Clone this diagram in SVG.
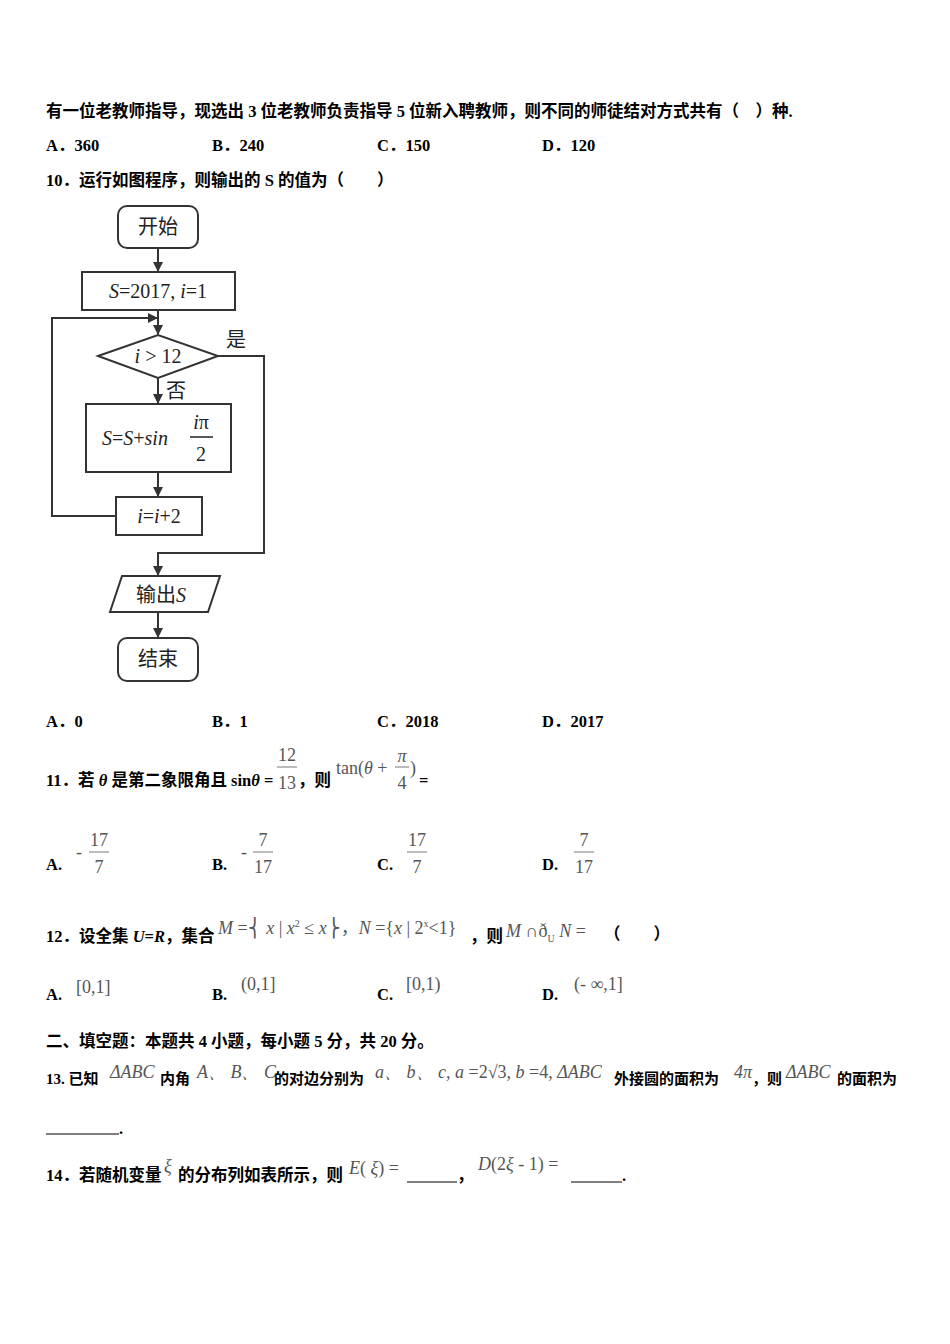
<svg xmlns="http://www.w3.org/2000/svg" width="950" height="1344" viewBox="0 0 950 1344">
<style>
.t{font-family:"Liberation Serif","Noto Sans CJK SC",serif;font-size:16.5px;font-weight:bold;fill:#000}
.q{font-family:"Liberation Serif","Noto Sans CJK SC",serif;font-size:15px;font-weight:bold;fill:#000}
.m{font-family:"Liberation Serif","Noto Sans CJK SC",serif;font-size:18px;fill:#555}
.mi{font-family:"Liberation Serif",serif;font-size:18px;fill:#555;font-style:italic}
.f{font-family:"Liberation Serif","Noto Sans CJK SC",serif;font-size:20px;fill:#222}
.fi{font-family:"Liberation Serif",serif;font-size:20px;fill:#222;font-style:italic}
.s{fill:#fff;stroke:#333;stroke-width:2}
.l{fill:none;stroke:#333;stroke-width:2}
</style>
<defs><marker id="a" markerWidth="10" markerHeight="10" refX="9" refY="5" orient="auto" markerUnits="userSpaceOnUse"><path d="M0,0 L10,5 L0,10 Z" fill="#333"/></marker></defs>
<rect width="950" height="1344" fill="#fff"/>
<text class="t" x="46" y="117">有一位老教师指导，现选出 3 位老教师负责指导 5 位新入聘教师，则不同的师徒结对方式共有（　）种.</text>
<text class="t" x="46" y="151">A．360</text><text class="t" x="212" y="151">B．240</text><text class="t" x="377" y="151">C．150</text><text class="t" x="542" y="151">D．120</text>
<text class="t" x="46" y="186">10．运行如图程序，则输出的 S 的值为（　　）</text>
<g id="connectors">
<line class="l" x1="158" y1="248" x2="158" y2="271" marker-end="url(#a)"/>
<line class="l" x1="158" y1="310" x2="158" y2="334" marker-end="url(#a)"/>
<polyline class="l" points="116,516 52,516 52,318 157,318" marker-end="url(#a)"/>
<line class="l" x1="158" y1="378" x2="158" y2="403" marker-end="url(#a)"/>
<line class="l" x1="158" y1="472" x2="158" y2="496" marker-end="url(#a)"/>
<polyline class="l" points="218,356 264,356 264,553 158,553 158,575" marker-end="url(#a)"/>
<line class="l" x1="158" y1="612" x2="158" y2="637" marker-end="url(#a)"/>
<text class="f" x="226" y="347">是</text><text class="f" x="166" y="398">否</text>
</g>
<g id="start"><rect class="s" x="118" y="206" width="80" height="42" rx="9"/><text class="f" x="158" y="234" text-anchor="middle">开始</text></g>
<g id="init"><rect class="s" x="82" y="272" width="153" height="38"/><text class="f" x="158" y="298" text-anchor="middle"><tspan class="fi">S</tspan>=2017, <tspan class="fi">i</tspan>=1</text></g>
<g id="cond"><polygon class="s" points="98,356 158,335 218,356 158,378"/><text class="f" x="158" y="363" text-anchor="middle"><tspan class="fi">i</tspan> &gt; 12</text></g>
<g id="update"><rect class="s" x="86" y="404" width="145" height="68"/><text class="f" x="102" y="445"><tspan class="fi">S</tspan>=<tspan class="fi">S</tspan>+<tspan class="fi">sin</tspan></text><text class="f" x="201" y="429" text-anchor="middle"><tspan class="fi">i</tspan>π</text><line x1="190" y1="437" x2="213" y2="437" stroke="#222" stroke-width="1.5"/><text class="f" x="201" y="461" text-anchor="middle">2</text></g>
<g id="inc"><rect class="s" x="116" y="497" width="86" height="38"/><text class="f" x="159" y="523" text-anchor="middle"><tspan class="fi">i</tspan>=<tspan class="fi">i</tspan>+2</text></g>
<g id="out"><polygon class="s" points="122,576 220,576 208,612 110,612"/><text class="f" x="161" y="602" text-anchor="middle">输出<tspan class="fi">S</tspan></text></g>
<g id="end"><rect class="s" x="118" y="638" width="80" height="43" rx="9"/><text class="f" x="158" y="666" text-anchor="middle">结束</text></g>
<text class="t" x="46" y="727">A．0</text><text class="t" x="212" y="727">B．1</text><text class="t" x="377" y="727">C．2018</text><text class="t" x="542" y="727">D．2017</text>
<text class="t" x="46" y="786">11．若 <tspan font-style="italic">θ</tspan> 是第二象限角且 sin<tspan font-style="italic">θ</tspan> =</text>
<text class="m" x="287" y="761" text-anchor="middle">12</text><line x1="277" y1="767" x2="297" y2="767" stroke="#777"/><text class="m" x="287" y="789" text-anchor="middle">13</text>
<text class="t" x="298" y="786">，则</text>
<text class="m" x="336" y="774">tan(<tspan class="mi">θ</tspan> + </text><text class="mi" x="402" y="762" text-anchor="middle">π</text><line x1="395" y1="767" x2="409" y2="767" stroke="#777"/><text class="m" x="402" y="789" text-anchor="middle">4</text><text class="m" x="410" y="774">)</text><text class="t" x="419" y="786">=</text>
<text class="t" x="46" y="870">A.</text><text class="m" x="76" y="858">-</text><text class="m" x="99" y="846" text-anchor="middle">17</text><line x1="89" y1="852" x2="109" y2="852" stroke="#777"/><text class="m" x="99" y="873" text-anchor="middle">7</text>
<text class="t" x="212" y="870">B.</text><text class="m" x="241" y="858">-</text><text class="m" x="263" y="846" text-anchor="middle">7</text><line x1="253" y1="852" x2="273" y2="852" stroke="#777"/><text class="m" x="263" y="873" text-anchor="middle">17</text>
<text class="t" x="377" y="870">C.</text><text class="m" x="417" y="846" text-anchor="middle">17</text><line x1="407" y1="852" x2="427" y2="852" stroke="#777"/><text class="m" x="417" y="873" text-anchor="middle">7</text>
<text class="t" x="542" y="870">D.</text><text class="m" x="584" y="846" text-anchor="middle">7</text><line x1="574" y1="852" x2="594" y2="852" stroke="#777"/><text class="m" x="584" y="873" text-anchor="middle">17</text>
<text class="t" x="46" y="942">12．设全集 <tspan font-style="italic">U</tspan>=<tspan font-style="italic">R</tspan>，集合</text>
<text class="m" x="218" y="934"><tspan class="mi">M</tspan> =⎨ <tspan class="mi">x</tspan> | <tspan class="mi">x</tspan><tspan font-size="10" dy="-7">2</tspan><tspan dy="7"> ≤ </tspan><tspan class="mi">x</tspan>⎬，<tspan class="mi">N</tspan> ={<tspan class="mi">x</tspan> | 2<tspan font-size="10" dy="-7">x</tspan><tspan dy="7">&lt;1}</tspan></text>
<text class="t" x="470" y="942">，则</text><text class="m" x="506" y="937"><tspan class="mi">M</tspan> ∩ð<tspan font-size="10" dy="5">U</tspan><tspan dy="-5" class="mi"> N</tspan> =</text><text class="t" x="604" y="940">（　　）</text>
<text class="t" x="46" y="1000">A.</text><text class="m" x="76" y="993">[0,1]</text>
<text class="t" x="212" y="1000">B.</text><text class="m" x="241" y="990">(0,1]</text>
<text class="t" x="377" y="1000">C.</text><text class="m" x="406" y="990">[0,1)</text>
<text class="t" x="542" y="1000">D.</text><text class="m" x="574" y="990">(- ∞,1]</text>
<text class="t" x="46" y="1047">二、填空题：本题共 4 小题，每小题 5 分，共 20 分。</text>
<text class="q" x="46" y="1084">13. 已知</text><text class="mi" x="110" y="1078" font-size="17">ΔABC</text><text class="q" x="160" y="1084">内角</text><text class="mi" x="197" y="1078" font-size="16">A、 B、 C</text><text class="q" x="274" y="1084">的对边分别为</text><text class="mi" x="375" y="1078" font-size="17">a、 b、 c, a <tspan font-style="normal">=2√3</tspan>, b <tspan font-style="normal">=4,</tspan> ΔABC</text><text class="q" x="614" y="1084">外接圆的面积为</text><text class="mi" x="734" y="1078" font-size="12">4π</text><text class="q" x="752" y="1084">，则</text><text class="mi" x="786" y="1078" font-size="17">ΔABC</text><text class="q" x="837" y="1084">的面积为</text>
<line x1="46" y1="1134" x2="119" y2="1134" stroke="#000"/><text class="t" x="119" y="1134">.</text>
<text class="t" x="46" y="1181">14．若随机变量</text><text class="mi" x="164" y="1172" font-size="12">ξ</text><text class="t" x="178" y="1181">的分布列如表所示，则</text><text class="mi" x="349" y="1174">E<tspan font-style="normal">( </tspan>ξ<tspan font-style="normal">) =</tspan></text><line x1="407" y1="1182" x2="457" y2="1182" stroke="#000"/><text class="t" x="457" y="1181">，</text><text class="mi" x="478" y="1170">D<tspan font-style="normal">(2</tspan>ξ<tspan font-style="normal"> - 1) =</tspan></text><line x1="571" y1="1182" x2="622" y2="1182" stroke="#000"/><text class="t" x="622" y="1181">.</text>
</svg>
